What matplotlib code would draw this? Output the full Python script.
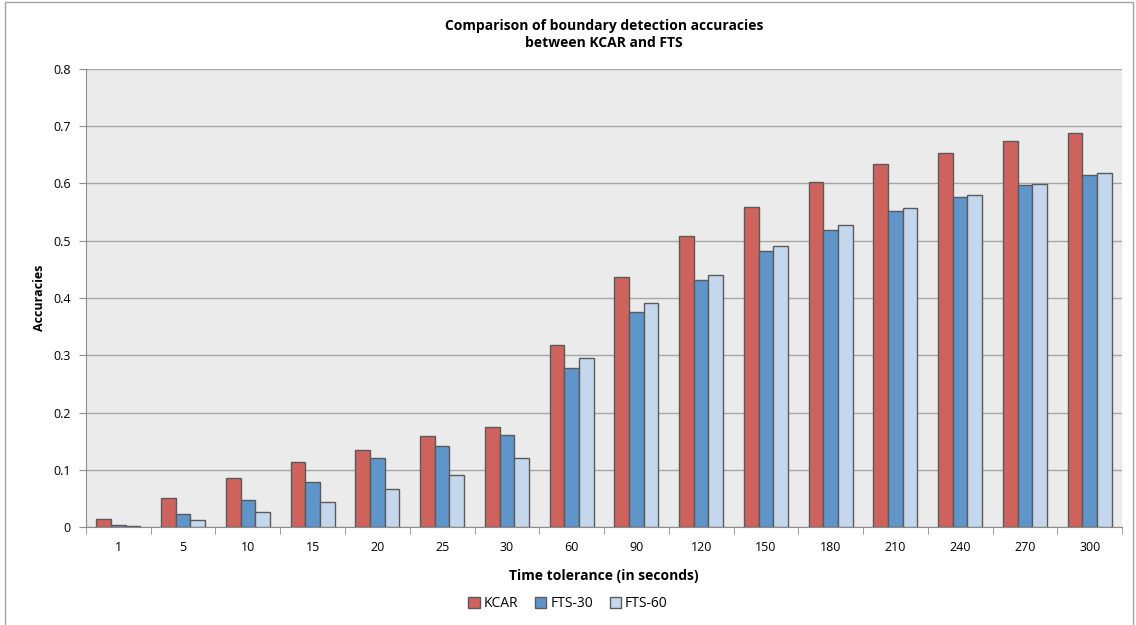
import matplotlib
matplotlib.use("Agg")
import matplotlib.pyplot as plt
import matplotlib.patches as mpatches
import numpy as np

categories = ["1", "5", "10", "15", "20", "25", "30", "60", "90", "120",
              "150", "180", "210", "240", "270", "300"]
kcar = [0.014, 0.051, 0.086, 0.114, 0.135, 0.159, 0.175, 0.318, 0.436, 0.508,
        0.559, 0.602, 0.634, 0.653, 0.675, 0.688]
fts30 = [0.004, 0.023, 0.047, 0.079, 0.121, 0.141, 0.160, 0.277, 0.375, 0.432,
         0.482, 0.518, 0.552, 0.577, 0.598, 0.614]
fts60 = [0.002, 0.012, 0.026, 0.044, 0.066, 0.091, 0.120, 0.296, 0.391, 0.441,
         0.490, 0.528, 0.557, 0.580, 0.600, 0.618]
series_names = ["KCAR", "FTS-30", "FTS-60"]
colors = ["#CD635C", "#5F95C8", "#C5D7EC"]

plt.rcParams["font.family"] = ["Open Sans", "DejaVu Sans"]

fig = plt.figure(figsize=(11.36, 6.25), dpi=100)
ax = fig.add_axes([0.0757, 0.1568, 0.912, 0.7328])
ax.set_facecolor("#EBEBEB")

x = np.arange(len(categories))
w = 0.227
for i, (vals, name, c) in enumerate(zip([kcar, fts30, fts60], series_names, colors)):
    ax.bar(x + (i - 1) * w, vals, width=w, color=c, edgecolor="#5A5A5A",
           linewidth=1.0, label=name, zorder=3)

ax.set_xlim(-0.5, len(categories) - 0.5)
ax.set_ylim(0, 0.8)
ax.set_yticks(np.arange(0, 0.81, 0.1))
ax.set_yticklabels(["0"] + ["%.1f" % v for v in np.arange(0.1, 0.81, 0.1)])
ax.yaxis.grid(True, color="#A6A6A6", linewidth=1.0, zorder=0)

ax.set_xticks(x)
ax.set_xticklabels(categories)
ax.set_xticks(np.arange(-0.5, len(categories)), minor=True)
ax.tick_params(axis="x", which="major", length=0, pad=10, labelsize=9)
ax.tick_params(axis="x", which="minor", length=5, color="#8C8C8C", direction="out")
ax.tick_params(axis="y", length=5, color="#8C8C8C", labelsize=9, pad=6)

for s in ["top", "right"]:
    ax.spines[s].set_visible(False)
for s in ["left", "bottom"]:
    ax.spines[s].set_color("#8C8C8C")

ax.set_ylabel("Accuracies", fontsize=9, fontweight="bold", labelpad=5)
ax.set_xlabel("Time tolerance (in seconds)", fontsize=10, fontweight="bold", labelpad=11)
ax.set_title("Comparison of boundary detection accuracies\nbetween KCAR and FTS",
             fontsize=10, fontweight="bold", pad=16, linespacing=1.25)

handles = [mpatches.Patch(facecolor=c, edgecolor="#5A5A5A", label=n)
           for c, n in zip(colors, series_names)]
fig.legend(handles=handles, loc="center", bbox_to_anchor=(0.5, 0.034), ncol=3,
           frameon=False, fontsize=10, handlelength=0.8, handleheight=0.8,
           handletextpad=0.3, columnspacing=1.2)

fig.patches.append(mpatches.Rectangle((0.0045, -0.01), 0.993, 1.0065,
                                      transform=fig.transFigure, fill=False,
                                      edgecolor="#A0A0A0", linewidth=1.0))

plt.savefig("out.png", dpi=100)
